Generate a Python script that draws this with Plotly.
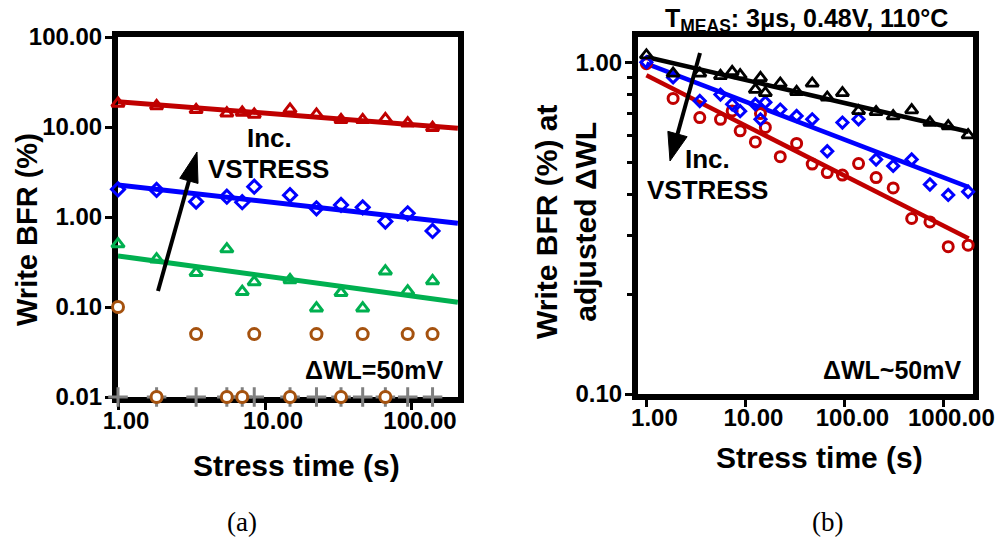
import numpy as np
import plotly.graph_objects as go

# ---------------- data: panel (a) ----------------
t_a = [1, 1.83, 3.4, 5.5, 7.0, 8.45, 14.8, 22.4, 32.9, 46.2, 65.9, 93.5, 138]
red_a = [18.3, 17.1, 15.5, 14.2, 14.5, 13.8, 15.7, 13.8, 12.0, 12.0, 12.3, 11.0, 9.8]
blue_a = [2.03, 2.0, 1.48, 1.68, 1.46, 2.17, 1.75, 1.25, 1.36, 1.28, 0.89, 1.1, 0.70]
green_a = [0.50, 0.34, 0.24, 0.44, 0.148, 0.19, 0.20, 0.097, 0.144, 0.097, 0.25, 0.15, 0.195]
brown_a = [0.1, 0.01, 0.05, 0.01, 0.01, 0.05, 0.01, 0.05, 0.01, 0.05, 0.01, 0.05, 0.05]
gray_a = [0.01, 0.01, 0.01, 0.01, 0.01, 0.01, 0.01, 0.01, 0.01, 0.01, 0.01, 0.01, 0.01]
fit_t_a = [1, 205]
fit_red_a = [19.1, 9.7]
fit_blue_a = [2.27, 0.85]
fit_green_a = [0.37, 0.113]
xt_a = [1, 10, 100]
xt_a_text = ["1.00", "10.00", "100.00"]
yt_a = [0.01, 0.1, 1, 10, 100]
yt_a_text = ["0.01", "0.10", "1.00", "10.00", "100.00"]

# ---------------- data: panel (b) ----------------
t_b = [1, 1.86, 3.46, 5.6, 7.35, 8.85, 12.6, 14.2, 15.9, 22.5, 32.9, 47.3, 67.1,
       95.5, 139, 209, 311, 478, 731, 1119, 1778]
black_b = [1.05, 0.925, 0.925, 0.91, 0.935, 0.914, 0.827, 0.897, 0.808, 0.863, 0.814,
           0.863, 0.783, 0.808, 0.713, 0.708, 0.688, 0.717, 0.658, 0.642, 0.603]
blue_b = [1.0, 0.90, 0.764, 0.799, 0.747, 0.712, 0.747, 0.673, 0.757, 0.72, 0.689,
          0.673, 0.539, 0.658, 0.673, 0.509, 0.487, 0.509, 0.428, 0.398, 0.407]
red_b = [0.99, 0.778, 0.681, 0.673, 0.713, 0.621, 0.575, 0.70, 0.636, 0.519, 0.569,
         0.493, 0.465, 0.457, 0.495, 0.449, 0.418, 0.338, 0.33, 0.278, 0.281]
fit_t_b = [1, 1800]
fit_black_b = [1.037, 0.617]
fit_blue_b = [0.99, 0.42]
fit_red_b = [0.913, 0.294]
xt_b = [1, 10, 100, 1000]
xt_b_text = ["1.00", "10.00", "100.00", "1000.00"]
yt_b = [0.1, 1]
yt_b_text = ["0.10", "1.00"]
yminor_b = [0.2, 0.3, 0.4, 0.5, 0.6, 0.7, 0.8, 0.9]

# ---------------- styling ----------------
W, H = 1005, 540
RED = "#C00000"
BLUE = "#0000FF"
GREEN = "#00B050"
BROWN = "#A5520F"
GRAY = "#808080"
FAM = "Liberation Sans, Arial, sans-serif"
TF = dict(family=FAM, size=24, color="black", weight="bold")


def px(x):
    return x / W


def py(y):
    return 1 - y / H


fig = go.Figure()

# panel (a)
fig.add_trace(go.Scatter(x=t_a, y=gray_a, mode="markers", xaxis="x", yaxis="y", cliponaxis=False,
                         marker=dict(symbol="cross-thin", size=14, line=dict(color=GRAY, width=3))))
for fy, col in [(fit_red_a, RED), (fit_blue_a, BLUE), (fit_green_a, GREEN)]:
    fig.add_trace(go.Scatter(x=fit_t_a, y=fy, mode="lines", xaxis="x", yaxis="y",
                             line=dict(color=col, width=5)))
fig.add_trace(go.Scatter(x=t_a, y=brown_a, mode="markers", xaxis="x", yaxis="y", cliponaxis=False,
                         marker=dict(symbol="circle", size=11, color="white", line=dict(color=BROWN, width=3))))
fig.add_trace(go.Scatter(x=t_a, y=green_a, mode="markers", xaxis="x", yaxis="y", cliponaxis=False,
                         marker=dict(symbol="triangle-up-open", size=11, color=GREEN, line=dict(color=GREEN, width=3))))
fig.add_trace(go.Scatter(x=t_a, y=blue_a, mode="markers", xaxis="x", yaxis="y", cliponaxis=False,
                         marker=dict(symbol="diamond-open", size=10, color=BLUE, line=dict(color=BLUE, width=3))))
fig.add_trace(go.Scatter(x=t_a, y=red_a, mode="markers", xaxis="x", yaxis="y", cliponaxis=False,
                         marker=dict(symbol="triangle-up-open", size=11, color=RED, line=dict(color=RED, width=3))))

# panel (b)
for fy, col in [(fit_black_b, "black"), (fit_blue_b, BLUE), (fit_red_b, RED)]:
    fig.add_trace(go.Scatter(x=fit_t_b, y=fy, mode="lines", xaxis="x2", yaxis="y2",
                             line=dict(color=col, width=4.5)))
fig.add_trace(go.Scatter(x=t_b, y=red_b, mode="markers", xaxis="x2", yaxis="y2", cliponaxis=False,
                         marker=dict(symbol="circle-open", size=10, color=RED, line=dict(color=RED, width=3))))
fig.add_trace(go.Scatter(x=t_b, y=blue_b, mode="markers", xaxis="x2", yaxis="y2", cliponaxis=False,
                         marker=dict(symbol="diamond-open", size=8.5, color=BLUE, line=dict(color=BLUE, width=3))))
fig.add_trace(go.Scatter(x=t_b, y=black_b, mode="markers", xaxis="x2", yaxis="y2", cliponaxis=False,
                         marker=dict(symbol="triangle-up-open", size=11, color="black", line=dict(color="black", width=2.8))))

axis_common = dict(type="log", showline=True, linewidth=6, linecolor="black", mirror=True,
                   ticks="outside", ticklen=7, tickwidth=3, tickcolor="black", automargin=False,
                   showgrid=False, zeroline=False, tickfont=TF, layer="below traces")

fig.update_layout(
    template="none",
    width=W, height=H, autosize=False,
    margin=dict(l=0, r=0, t=0, b=0, pad=0),
    paper_bgcolor="white", plot_bgcolor="white",
    showlegend=False,
    font=dict(family=FAM, color="black"),
    xaxis=dict(axis_common, domain=[px(118), px(458)], range=[0, 2.313], anchor="y",
               tickmode="array", tickvals=xt_a, ticktext=xt_a_text, ticklabelshift=8,
               ticklabelstandoff=-10),
    yaxis=dict(axis_common, domain=[py(397), py(37)], range=[-2, 2], anchor="x",
               tickmode="array", tickvals=yt_a, ticktext=yt_a_text, ticklabelstandoff=-2),
    xaxis2=dict(axis_common, domain=[px(638), px(973)], range=[-0.085, 3.299], anchor="y2",
                tickmode="array", tickvals=xt_b, ticktext=xt_b_text, ticklabelshift=8,
                ticklabelstandoff=-10),
    yaxis2=dict(axis_common, domain=[py(394), py(37)], range=[-1, 0.076], anchor="x2",
                tickmode="array", tickvals=yt_b, ticktext=yt_b_text, ticklabelstandoff=-2,
                minor=dict(tickmode="array", tickvals=yminor_b, ticks="outside", ticklen=5,
                           tickwidth=3, tickcolor="black")),
)


def text(x, y, s, size, anchor="center", angle=0, fam=FAM, weight="bold"):
    fig.add_annotation(x=px(x), y=py(y), xref="paper", yref="paper", text=s, showarrow=False,
                       xanchor=anchor, yanchor="middle", textangle=angle,
                       font=dict(family=fam, size=size, color="black", weight=weight))


# axis titles
text(27, 230, "Write BFR (%)", 29, angle=-90)
text(296, 465, "Stress time (s)", 30)
text(566, 222, "Write BFR (%) at<br>adjusted ΔWL", 30, angle=-90)
text(819, 457, "Stress time (s)", 30)
# panel annotations
text(269, 138, "Inc.", 26)
text(268, 169, "VSTRESS", 26)
text(445, 370, "ΔWL=50mV", 25, anchor="right")
text(707, 159, "Inc.", 26)
text(707, 190, "VSTRESS", 26)
text(963, 370, "ΔWL~50mV", 25, anchor="right")
text(806, 20, "T<sub>MEAS</sub>: 3μs, 0.48V, 110°C", 25)
# captions
text(242, 522, "(a)", 27, fam="Liberation Serif, Times New Roman, serif", weight="normal")
text(827, 522, "(b)", 27, fam="Liberation Serif, Times New Roman, serif", weight="normal")


def arrow(tail, tip, hl=30, hw=9.5, w=4):
    tail = np.array(tail, float)
    tip = np.array(tip, float)
    u = (tip - tail) / np.linalg.norm(tip - tail)
    n = np.array([-u[1], u[0]])
    base = tip - hl * u
    fig.add_shape(type="line", xref="paper", yref="paper",
                  x0=px(tail[0]), y0=py(tail[1]), x1=px(base[0] + 2 * u[0]), y1=py(base[1] + 2 * u[1]),
                  line=dict(color="black", width=w))
    c1 = base + hw * n
    c2 = base - hw * n
    path = "M {} {} L {} {} L {} {} Z".format(px(tip[0]), py(tip[1]), px(c1[0]), py(c1[1]),
                                              px(c2[0]), py(c2[1]))
    fig.add_shape(type="path", xref="paper", yref="paper", path=path,
                  fillcolor="black", line=dict(color="black", width=1))


arrow((158, 291), (197, 152))
arrow((700, 53), (670, 161), hl=28, hw=10)

fig.write_html("out.html")
